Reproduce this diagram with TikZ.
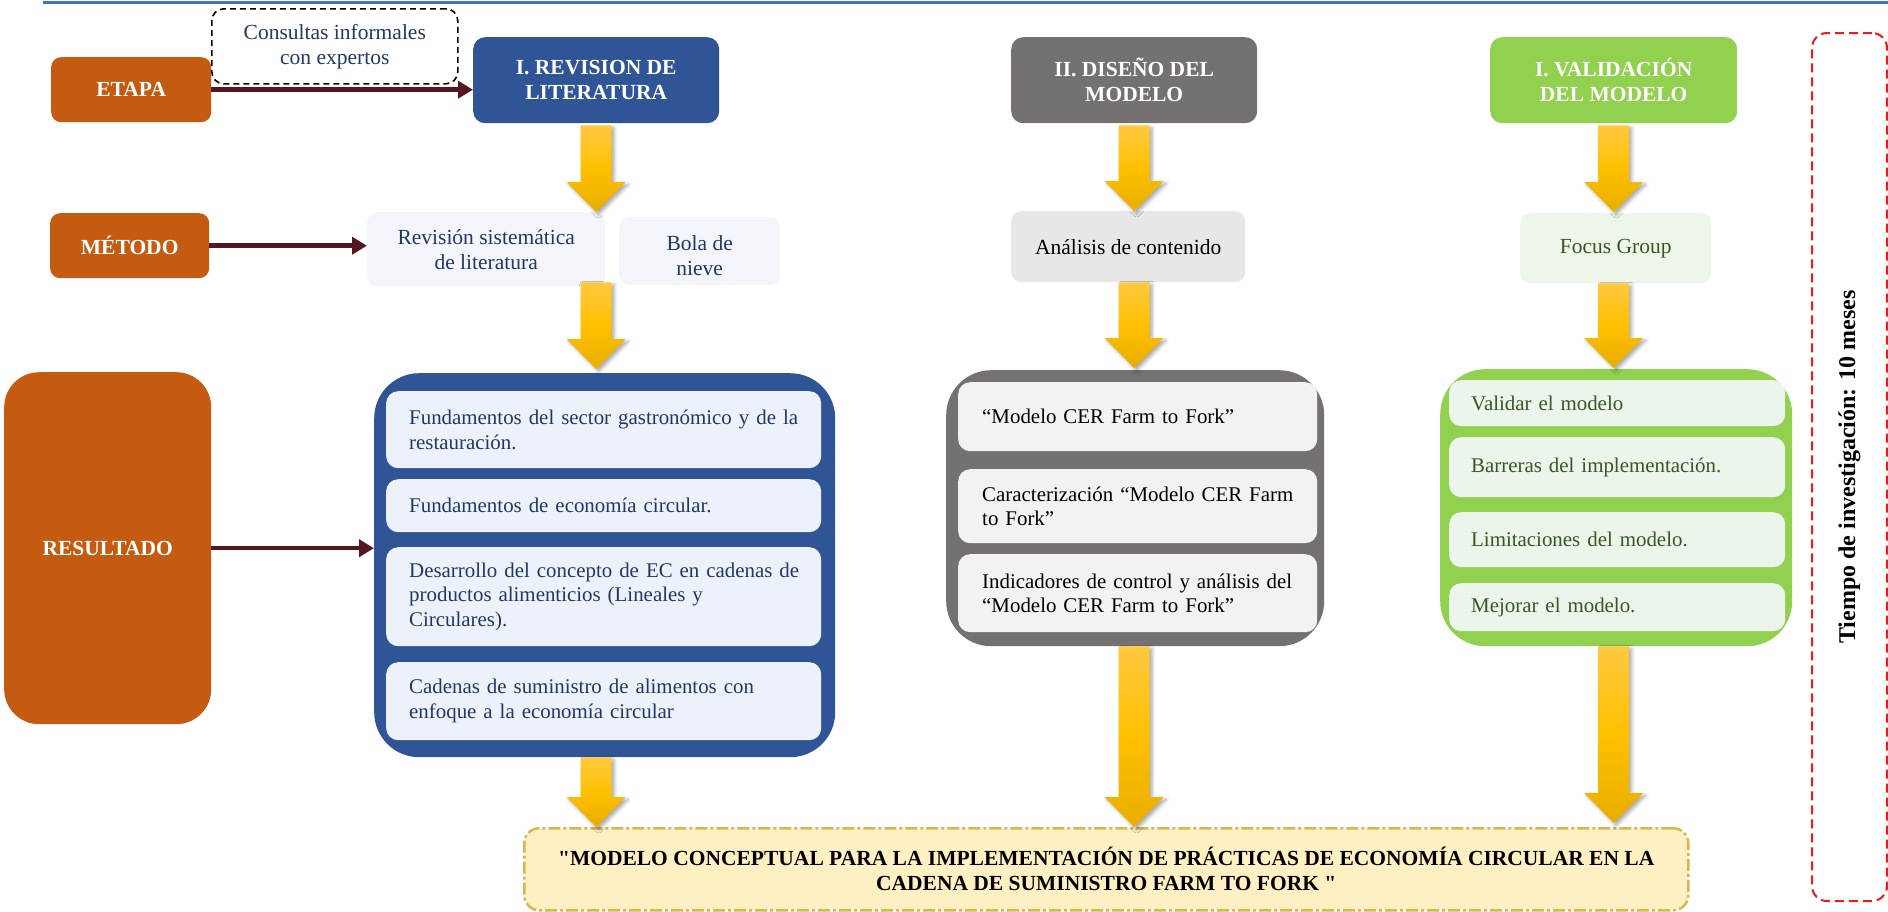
\documentclass[tikz,border=0pt]{standalone}
\usepackage{fontspec}
\setmainfont{Liberation Serif}
\newfontfamily\plainserif{Liberation Serif}
\usetikzlibrary{arrows.meta,calc,shadows.blur}

\definecolor{rustC}{HTML}{C55A11}
\definecolor{blueC}{HTML}{2F5597}
\definecolor{greyC}{HTML}{767171}
\definecolor{greenC}{HTML}{92D050}
\definecolor{navyT}{HTML}{203864}
\definecolor{greenT}{HTML}{385723}
\definecolor{maroonC}{HTML}{561620}
\definecolor{blueFill}{HTML}{EDF2FA}
\definecolor{paleFill}{HTML}{F4F5FA}
\definecolor{greyFill}{HTML}{F2F2F2}
\definecolor{anaFill}{HTML}{E7E7E7}
\definecolor{greenFill}{HTML}{EBF5EC}
\definecolor{focusFill}{HTML}{EEF6EA}
\definecolor{resFill}{HTML}{FFF0C4}
\definecolor{resLine}{HTML}{D8B650}
\definecolor{goldA}{HTML}{FFC940}
\definecolor{goldB}{HTML}{FFC000}
\definecolor{goldC}{HTML}{E8AE00}
\definecolor{timeRed}{HTML}{F01818}
\definecolor{ruleBlue}{HTML}{4472C4}

\newcommand\basefont{\fontsize{21.5bp}{25bp}\selectfont}
\newcommand\itemfont{\fontsize{20.9bp}{24.5bp}\selectfont}
\newcommand\sq{{\plainserif"}}

\tikzset{
  sz/.style 2 args={minimum width=#1bp, minimum height=#2bp},
  nw/.style={anchor=north west, inner sep=0pt},
  tag/.style={nw, fill=rustC, rounded corners=10bp, text=white, font=\basefont\bfseries, align=center},
  stage/.style={nw, fill=#1, rounded corners=12bp, text=white, font=\basefont\bfseries, align=center},
  method/.style={nw, fill=#1, rounded corners=10bp, align=center, font=\basefont},
  holder/.style={nw, fill=#1, rounded corners=45bp},
  item/.style={nw, fill=#1, rounded corners=12bp, align=left, font=\itemfont},
  link/.style={draw=maroonC, line width=4.5bp, -{Triangle[length=15bp,width=17bp]}},
  goldarrow/.style={top color=goldA, bottom color=goldC, middle color=goldB,
    blur shadow={shadow xshift=2.5bp, shadow yshift=-2.5bp, shadow blur radius=3.5bp, shadow opacity=35}},
}

% block arrow: column node, start point, tip point
\newcommand\goldarrow[3]{%
  \path[goldarrow] let \p0=(#1.center), \p1=(#2), \p2=(#3) in
    (\x0-15.5bp,\y1) -- (\x0+15.5bp,\y1) -- (\x0+15.5bp,\y2+30bp) -- (\x0+29.5bp,\y2+30bp)
    -- (\x0,\y2) -- (\x0-29.5bp,\y2+30bp) -- (\x0-15.5bp,\y2+30bp) -- cycle;
}

\begin{document}
\begin{tikzpicture}[x=1bp, y=-1bp]
\useasboundingbox (0,0) rectangle (1888,912);

% rule along the top
\draw[ruleBlue, line width=3bp] (43,2.5) -- (1888,2.5);

% row labels
\node[tag, sz={160}{65}] (etapa) at (51,57) {ETAPA};
\node[tag, sz={159}{65}] (metodo) at (50,213) {MÉTODO};
\node[tag, sz={207}{352}, rounded corners=35bp] (resultado) at (4,372) {RESULTADO};

% informal consultations
\node[nw, sz={246}{75}, draw=black, line width=1.6bp, dash pattern=on 6bp off 4bp,
      rounded corners=12bp, align=center, font=\basefont, text=navyT]
  (consulta) at (211,8) {Consultas informales\\con expertos};

% stage headers
\node[stage=blueC,  sz={246}{86}] (rev) at (473,37)  {I. REVISION DE\\LITERATURA};
\node[stage=greyC,  sz={246}{86}] (dis) at (1011,37) {II. DISEÑO DEL\\MODELO};
\node[stage=greenC, sz={247}{86}] (val) at (1490,37) {I. VALIDACIÓN\\DEL MODELO};

% methods
\node[method=paleFill, sz={238}{74}, text=navyT] (rsl) at (367,212) {Revisión sistemática\\de literatura};
\node[method=paleFill, sz={161}{68}, text=navyT] (bola) at (619,217) {\rule{0pt}{23bp}Bola de\\nieve};
\node[method=anaFill,  sz={234}{71}, text=black] (ana) at (1011,211) {Análisis de contenido};
\node[method=focusFill, sz={191}{70}, text=greenT] (focus) at (1520,213) {Focus Group};

% results: literature review
\node[holder=blueC, sz={461}{384}] (lit) at (374,373) {};
\node[item=blueFill, sz={435}{77}, inner xsep=23bp, text width=389bp, text=navyT] (b1) at (386,391)
  {\mbox{Fundamentos del sector gastronómico y de la}\\restauración.};
\node[item=blueFill, sz={435}{53}, inner xsep=23bp, text width=389bp, text=navyT] (b2) at (386,479)
  {Fundamentos de economía circular.};
\node[item=blueFill, sz={435}{99}, inner xsep=23bp, text width=389bp, text=navyT] (b3) at (386,547)
  {\mbox{Desarrollo del concepto de EC en cadenas de}\\productos alimenticios (Lineales y\\Circulares).};
\node[item=blueFill, sz={435}{78}, inner xsep=23bp, text width=389bp, text=navyT] (b4) at (386,662)
  {Cadenas de suministro de alimentos con\\enfoque a la economía circular};

% results: model design
\node[holder=greyC, sz={378}{276}] (modelo) at (946,370) {};
\node[item=greyFill, sz={359}{69}, inner xsep=24bp, text width=311bp, text=black] (g1) at (958,382)
  {“Modelo CER Farm to Fork”};
\node[item=greyFill, sz={359}{74}, inner xsep=24bp, text width=311bp, text=black] (g2) at (958,469)
  {\mbox{Caracterización “Modelo CER Farm}\\to Fork”};
\node[item=greyFill, sz={359}{78}, inner xsep=24bp, text width=311bp, text=black] (g3) at (958,554)
  {\mbox{Indicadores de control y análisis del}\\“Modelo CER Farm to Fork”};

% results: validation
\node[holder=greenC, sz={352}{277}] (valida) at (1440,369) {};
\node[item=greenFill, sz={336}{46}, inner xsep=22bp, text width=292bp, text=greenT] (v1) at (1449,380)
  {Validar el modelo};
\node[item=greenFill, sz={336}{60}, inner xsep=22bp, text width=292bp, text=greenT] (v2) at (1449,437)
  {Barreras del implementación.};
\node[item=greenFill, sz={336}{55}, inner xsep=22bp, text width=292bp, text=greenT] (v3) at (1449,512)
  {Limitaciones del modelo.};
\node[item=greenFill, sz={336}{48}, inner xsep=22bp, text width=292bp, text=greenT] (v4) at (1449,583)
  {Mejorar el modelo.};

% final outcome
\node[nw, sz={1164}{82}, fill=resFill, draw=resLine, line width=2.5bp,
      dash pattern=on 12bp off 3bp on 3bp off 3bp, rounded corners=15bp,
      align=center, font=\basefont\bfseries]
  (final) at (523,827)
  {\sq MODELO CONCEPTUAL PARA LA IMPLEMENTACIÓN DE PRÁCTICAS DE ECONOMÍA CIRCULAR EN LA\\CADENA DE SUMINISTRO FARM TO FORK \sq};

% research time frame
\node[nw, sz={75}{868}, draw=timeRed, line width=2bp, dash pattern=on 9bp off 5bp,
      rounded corners=15bp] (tiempo) at (1811,32) {};
\node[rotate=90, font=\fontsize{24bp}{26bp}\selectfont\bfseries] (tiempoT) at (tiempo.center)
  {Tiempo de investigación: 10 meses};

% connectors from the row labels
\draw[link] (etapa.east) -- (etapa.east -| rev.west);
\draw[link] (metodo.east) -- (metodo.east -| rsl.west);
\draw[link] (resultado.east) -- (resultado.east -| lit.west);

% flow arrows, column by column
\goldarrow{rev}{[yshift=-2bp]rev.south}{rsl.north -| rev.south}
\goldarrow{rev}{[yshift=4bp]rsl.south}{[yshift=4bp]lit.north}
\goldarrow{rev}{lit.south}{final.north}
\goldarrow{dis}{[yshift=-2bp]dis.south}{ana.north}
\goldarrow{dis}{ana.south}{[yshift=2bp]modelo.north}
\goldarrow{dis}{modelo.south}{final.north}
\goldarrow{val}{[yshift=-2bp]val.south}{[yshift=1bp]focus.north}
\goldarrow{val}{focus.south}{[yshift=1bp]valida.north}
\goldarrow{val}{valida.south}{[yshift=4bp]final.north}
\end{tikzpicture}
\end{document}
